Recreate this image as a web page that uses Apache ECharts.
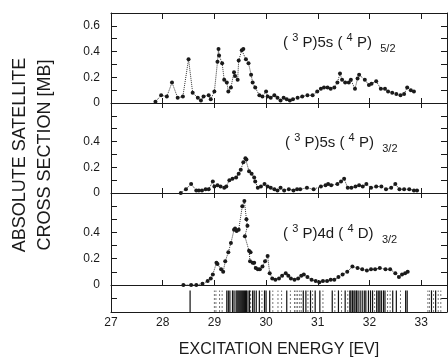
<!DOCTYPE html>
<html>
<head>
<meta charset="utf-8">
<script src="https://cdn.jsdelivr.net/npm/echarts@6/dist/echarts.min.js"></script>
<style>html,body{margin:0;padding:0;background:#fff}#c{width:448px;height:361px}</style>
</head>
<body>
<div id="c"></div>
<script>
// ---- data ----
const panel1Label = ['3', 'P)5s (', '4', 'P)', '5/2'];
const panel2Label = ['3', 'P)5s (', '4', 'P)', '3/2'];
const panel3Label = ['3', 'P)4d (', '4', 'D)', '3/2'];

const series5s52 = [
  [27.86,0.01],[27.97,0.06],[28.08,0.05],[28.18,0.16],[28.29,0.04],[28.39,0.05],[28.50,0.34],[28.58,0.08],
  [28.68,0.04],[28.74,0.02],[28.79,0.05],[28.89,0.06],[28.93,0.03],[29.00,0.09],[29.06,0.32],[29.08,0.42],
  [29.09,0.37],[29.15,0.31],[29.19,0.18],[29.24,0.16],[29.27,0.09],[29.32,0.12],[29.38,0.24],[29.40,0.21],
  [29.45,0.18],[29.47,0.33],[29.53,0.41],[29.56,0.42],[29.61,0.34],[29.66,0.31],[29.71,0.22],[29.74,0.16],
  [29.79,0.12],[29.87,0.06],[29.93,0.05],[30.00,0.09],[30.03,0.05],[30.09,0.04],[30.16,0.06],[30.22,0.04],
  [30.28,0.02],[30.34,0.04],[30.40,0.03],[30.46,0.02],[30.52,0.03],[30.61,0.04],[30.70,0.05],[30.80,0.06],
  [30.90,0.06],[30.99,0.09],[31.06,0.11],[31.12,0.12],[31.19,0.12],[31.25,0.11],[31.32,0.12],[31.38,0.16],
  [31.43,0.23],[31.47,0.18],[31.53,0.16],[31.60,0.16],[31.64,0.18],[31.72,0.11],[31.77,0.19],[31.80,0.22],
  [31.91,0.18],[31.99,0.14],[32.04,0.15],[32.13,0.17],[32.22,0.11],[32.30,0.11],[32.36,0.09],[32.44,0.08],
  [32.52,0.07],[32.60,0.06],[32.67,0.07],[32.73,0.12],[32.80,0.10],[32.86,0.09]
];
const series5s32 = [
  [28.35,0.00],[28.45,0.03],[28.55,0.07],[28.65,0.02],[28.70,0.02],[28.76,0.02],[28.83,0.03],[28.89,0.03],
  [28.97,0.09],[29.00,0.05],[29.06,0.06],[29.12,0.05],[29.19,0.04],[29.23,0.05],[29.29,0.10],[29.35,0.11],
  [29.42,0.12],[29.47,0.15],[29.51,0.18],[29.56,0.24],[29.60,0.27],[29.62,0.26],[29.67,0.17],[29.72,0.15],
  [29.77,0.12],[29.79,0.09],[29.84,0.04],[29.90,0.05],[29.97,0.07],[30.03,0.05],[30.09,0.04],[30.16,0.03],
  [30.22,0.02],[30.28,0.04],[30.35,0.02],[30.44,0.03],[30.53,0.02],[30.60,0.03],[30.66,0.03],[30.79,0.04],
  [30.92,0.03],[31.06,0.05],[31.15,0.06],[31.20,0.07],[31.26,0.06],[31.38,0.07],[31.45,0.09],[31.51,0.11],
  [31.58,0.04],[31.65,0.04],[31.73,0.05],[31.80,0.06],[31.87,0.05],[31.94,0.07],[32.03,0.04],[32.13,0.05],
  [32.23,0.05],[32.32,0.03],[32.42,0.04],[32.50,0.07],[32.58,0.03],[32.67,0.03],[32.77,0.03],[32.86,0.02],
  [32.92,0.02]
];
const series4d32 = [
  [28.40,0.00],[28.55,0.00],[28.65,0.00],[28.77,0.01],[28.87,0.03],[28.93,0.05],[28.97,0.08],[29.04,0.17],
  [29.06,0.16],[29.13,0.12],[29.17,0.10],[29.21,0.18],[29.27,0.25],[29.32,0.32],[29.38,0.42],[29.40,0.43],
  [29.43,0.41],[29.47,0.42],[29.54,0.60],[29.58,0.64],[29.62,0.50],[29.64,0.45],[29.59,0.37],[29.67,0.26],
  [29.70,0.25],[29.69,0.18],[29.74,0.17],[29.77,0.17],[29.80,0.13],[29.84,0.12],[29.88,0.12],[29.93,0.14],
  [29.98,0.18],[30.03,0.22],[30.07,0.09],[30.12,0.05],[30.18,0.04],[30.25,0.05],[30.31,0.07],[30.38,0.09],
  [30.43,0.07],[30.48,0.05],[30.55,0.04],[30.62,0.05],[30.68,0.07],[30.73,0.08],[30.80,0.06],[30.88,0.04],
  [30.96,0.03],[31.03,0.02],[31.10,0.03],[31.18,0.03],[31.25,0.04],[31.32,0.04],[31.40,0.06],[31.48,0.08],
  [31.57,0.10],[31.67,0.14],[31.77,0.13],[31.86,0.12],[31.95,0.11],[32.03,0.12],[32.11,0.12],[32.20,0.13],
  [32.31,0.12],[32.40,0.12],[32.50,0.09],[32.57,0.06],[32.63,0.08],[32.69,0.09],[32.74,0.10]
];
const strongLines = [
  28.53,29.24,29.27,29.30,29.35,29.38,29.42,29.44,29.46,29.48,29.50,29.52,29.54,29.56,29.58,29.60,29.62,
  29.65,29.68,29.74,29.77,29.81,29.87,29.97,30.00,30.07,30.40,30.72,30.77,30.86,30.95,31.04,31.28,31.40,
  31.53,31.62,31.64,31.67,31.70,31.72,31.75,31.78,31.82,31.86,31.90,31.93,31.98,32.02,32.06,32.14,32.17,
  32.20,32.23,32.27,32.30,32.45,32.52,32.70,32.73,33.20,33.28
];
const weakLines = [
  29.00,29.03,29.10,29.15,29.70,29.92,30.13,30.23,30.30,30.47,30.55,30.58,30.61,30.65,30.68,30.81,30.90,
  31.10,31.33,31.46,31.58,32.10,32.35,32.40,32.60,33.13,33.16,33.24,33.33,33.38
];

// ---- chart ----
const FONT = 'Liberation Sans';
const INK = '#1a1a1a';
const X_MIN = 27, X_MAX = 33.5;
const L = 111, W = 336;

// panel layout: each panel's grid runs from its top down to its zero line
const panels = [
  {top: 13, height: 90, max: 0.7, labelMax: 0.6},
  {top: 103, height: 90, max: 0.7, labelMax: 0.4},
  {top: 193, height: 92, max: 0.7, labelMax: 0.4}
];

const chart = echarts.init(document.getElementById('c'), null, {renderer: 'canvas'});

function grid(top, height) {
  return {left: L, width: W, top, height, containLabel: false, outerBoundsMode: 'none', show: false};
}
function baseX(gi, pos) {
  return {type: 'value', gridIndex: gi, position: pos, min: X_MIN, max: X_MAX, interval: 1,
          axisLabel: {show: false}, splitLine: {show: false}};
}
function zeroAxis(gi) {   // zero line, ticks pointing up
  return Object.assign(baseX(gi, 'bottom'), {
    axisLine: {show: true, onZero: false, lineStyle: {color: INK, width: 1}},
    axisTick: {show: true, inside: true, length: 5, lineStyle: {color: INK}}
  });
}
function downTicks(gi) {  // ticks pointing down from the zero line above
  return Object.assign(baseX(gi, 'top'), {
    axisLine: {show: false, onZero: false},
    axisTick: {show: true, inside: true, length: 5, lineStyle: {color: INK}}
  });
}
function hiddenX(gi) {
  return {type: 'value', gridIndex: gi, min: X_MIN, max: X_MAX, show: false};
}
function tickY(gi, pos, min, max) {
  return {
    type: 'value', gridIndex: gi, position: pos, min, max, interval: 0.1,
    axisLine: {show: false, onZero: false},
    axisTick: {show: true, inside: true, length: 6, lineStyle: {color: INK}},
    axisLabel: {show: false}, splitLine: {show: false}
  };
}
function labelY(gi, max) {
  return {
    type: 'value', gridIndex: gi, position: 'left', min: 0, max, interval: 0.2,
    axisLine: {show: false, onZero: false}, axisTick: {show: false}, splitLine: {show: false},
    axisLabel: {show: true, margin: 11, fontFamily: FONT, fontSize: 12, color: INK}
  };
}
function lineSeries(data, xi, yi) {
  return {
    type: 'line', data, xAxisIndex: xi, yAxisIndex: yi, clip: false,
    symbol: 'circle', symbolSize: 4, showSymbol: true,
    itemStyle: {color: INK},
    lineStyle: {color: '#333', width: 1, type: 'dotted'},
    animation: false
  };
}
function stripSeries(data, color, width, dash) {
  return {
    type: 'custom', xAxisIndex: 7, yAxisIndex: 10,
    data: data.map(v => [v, 1]), encode: {x: 0, y: 1},
    renderItem: (params, api) => {
      const x = api.value(0);
      const a = api.coord([x, 0]), b = api.coord([x, api.value(1)]);
      return {type: 'line', shape: {x1: a[0], y1: a[1], x2: b[0], y2: b[1]},
              style: {stroke: color, lineWidth: width, lineDash: dash}};
    },
    animation: false
  };
}
function richText(parts) {
  return '{n|( }{sp|' + parts[0] + '}{n| ' + parts[1] + ' }{sp|' + parts[2] + '}{n| ' + parts[3] + '  }{sb|' + parts[4] + '}';
}
const rich = {
  n: {fontFamily: FONT, fontSize: 15, fontWeight: 'normal', fill: INK, lineHeight: 22, verticalAlign: 'middle'},
  sp: {fontFamily: FONT, fontSize: 11, fontWeight: 'normal', fill: INK, lineHeight: 11, verticalAlign: 'top'},
  sb: {fontFamily: FONT, fontSize: 11, fontWeight: 'normal', fill: INK, lineHeight: 11, verticalAlign: 'bottom'}
};
function panelText(x, y, parts) {
  return {type: 'text', x, y, silent: true,
          style: {text: richText(parts), rich, fill: INK, align: 'left', verticalAlign: 'middle',
                  font: '15px "Liberation Sans"'}};
}
// label grids cover only the labelled part (0 .. labelMax) of each panel
const labelGrids = panels.map(p => grid(p.top + p.height * (1 - p.labelMax / p.max), p.height * p.labelMax / p.max));

const option = {
  backgroundColor: '#fff',
  animation: false,
  grid: [
    grid(13, 299),                              // 0 frame
    grid(panels[0].top, panels[0].height),      // 1 panel 1
    grid(panels[1].top, panels[1].height),      // 2 panel 2
    grid(panels[2].top, panels[2].height),      // 3 panel 3
    grid(285, 27),                              // 4 below-zero area + line strip
    labelGrids[0], labelGrids[1], labelGrids[2] // 5, 6, 7
  ],
  xAxis: [
    {type: 'value', gridIndex: 0, position: 'bottom', min: X_MIN, max: X_MAX, interval: 1,
     axisLine: {show: true, onZero: false, lineStyle: {color: INK}},
     axisTick: {show: false},
     axisLabel: {show: true, margin: 5, fontFamily: FONT, fontSize: 12, color: INK, showMaxLabel: false},
     splitLine: {show: false},
     name: 'EXCITATION ENERGY [EV]', nameLocation: 'middle', nameGap: 30,
     nameTextStyle: {fontFamily: FONT, fontSize: 16, color: INK}},
    {type: 'value', gridIndex: 0, position: 'top', min: X_MIN, max: X_MAX, interval: 1,
     axisLine: {show: true, onZero: false, lineStyle: {color: INK}},
     axisTick: {show: true, inside: true, length: 6, lineStyle: {color: INK}},
     axisLabel: {show: false}, splitLine: {show: false}},
    zeroAxis(1),                 // 2
    zeroAxis(2), downTicks(2),   // 3, 4
    zeroAxis(3), downTicks(3),   // 5, 6
    hiddenX(4),                  // 7
    hiddenX(5), hiddenX(6), hiddenX(7)  // 8, 9, 10
  ],
  yAxis: [
    {type: 'value', gridIndex: 0, position: 'left', min: 0, max: 1,
     axisLine: {show: true, onZero: false, lineStyle: {color: INK}}, axisTick: {show: false},
     axisLabel: {show: false}, splitLine: {show: false}},
    {type: 'value', gridIndex: 0, position: 'right', min: 0, max: 1,
     axisLine: {show: true, onZero: false, lineStyle: {color: INK}}, axisTick: {show: false},
     axisLabel: {show: false}, splitLine: {show: false}},
    tickY(1, 'left', 0, panels[0].max), tickY(1, 'right', 0, panels[0].max),   // 2, 3
    tickY(2, 'left', 0, panels[1].max), tickY(2, 'right', 0, panels[1].max),   // 4, 5
    tickY(3, 'left', 0, panels[2].max), tickY(3, 'right', 0, panels[2].max),   // 6, 7
    tickY(4, 'left', -0.2, 0), tickY(4, 'right', -0.2, 0),                     // 8, 9
    {type: 'value', gridIndex: 4, min: 0, max: 1.25, show: false},             // 10
    labelY(5, panels[0].labelMax), labelY(6, panels[1].labelMax), labelY(7, panels[2].labelMax) // 11-13
  ],
  graphic: [
    panelText(283, 43, panel1Label),
    panelText(285, 143, panel2Label),
    panelText(283, 234, panel3Label),
    {type: 'text', x: 33, y: 155, rotation: Math.PI / 2, silent: true,
     style: {text: 'ABSOLUTE SATELLITE\nCROSS SECTION [MB]', font: '18px "Liberation Sans"',
             fill: INK, align: 'center', verticalAlign: 'middle', lineHeight: 25}}
  ],
  series: [
    lineSeries(series5s52, 2, 2),
    lineSeries(series5s32, 3, 4),
    lineSeries(series4d32, 5, 6),
    stripSeries(weakLines, '#777', 1, [2, 2]),
    stripSeries(strongLines, '#111', 1.2, null)
  ]
};
chart.setOption(option);
</script>
</body>
</html>
